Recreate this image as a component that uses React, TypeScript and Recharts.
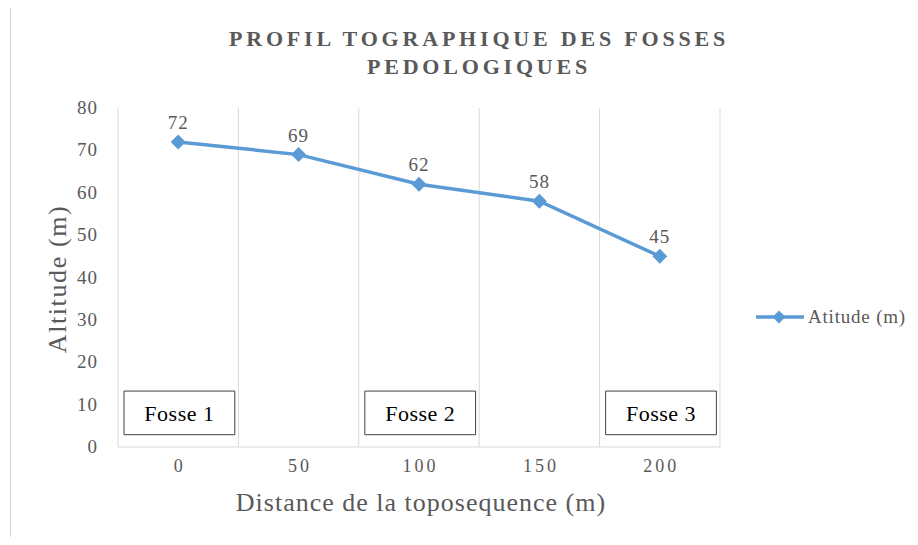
import React from "react";
import {
  LabelList,
  Line,
  LineChart,
  ReferenceArea,
  ReferenceLine,
  XAxis,
  YAxis,
} from "recharts";

// distance along the toposequence (m) and altitude read at each point
const distances = [0, 50, 100, 150, 200];
const altitudes = [72, 69, 62, 58, 45];
const yTicks = [0, 10, 20, 30, 40, 50, 60, 70, 80];

// soil pits drawn as boxed notes near the bottom of the plot
const fosses = [
  { label: "Fosse 1", at: 0 },
  { label: "Fosse 2", at: 100 },
  { label: "Fosse 3", at: 200 },
];

const BLUE = "#5b9bd5";
const GREY_TEXT = "#595959";
const GRID = "#d9d9d9";
const FONT = '"Liberation Serif", "Times New Roman", serif';

const data = distances.map((d, i) => ({ distance: d, altitude: altitudes[i] }));

// half a category each side, so points sit in the middle of their band
const half = (distances[1] - distances[0]) / 2;
const bandEdges = [...distances.map((d) => d - half), distances[distances.length - 1] + half];

function Diamond(props: any) {
  const { cx, cy } = props;
  if (cx == null || cy == null) return null;
  const r = 7.5;
  return (
    <polygon
      points={`${cx},${cy - r} ${cx + r},${cy} ${cx},${cy + r} ${cx - r},${cy}`}
      fill={BLUE}
    />
  );
}

function XTick(props: any) {
  const { x, y, payload } = props;
  return (
    <text
      x={x + 1.5}
      y={y}
      dy={17}
      textAnchor="middle"
      fill={GREY_TEXT}
      fontSize={18}
      fontFamily={FONT}
      letterSpacing={3}
    >
      {payload.value}
    </text>
  );
}

function YTick(props: any) {
  const { x, y, payload } = props;
  return (
    <text
      x={x}
      y={y}
      dy={6}
      textAnchor="end"
      fill={GREY_TEXT}
      fontSize={19}
      fontFamily={FONT}
      letterSpacing={1}
    >
      {payload.value}
    </text>
  );
}

function LegendBox() {
  return (
    <div
      style={{
        position: "absolute",
        left: 755,
        top: 306,
        display: "flex",
        alignItems: "center",
        fontFamily: FONT,
        fontSize: 19,
        letterSpacing: 0.8,
        color: GREY_TEXT,
        whiteSpace: "nowrap",
      }}
    >
      <svg width={50} height={16}>
        <line x1={1} y1={8} x2={49} y2={8} stroke={BLUE} strokeWidth={3.5} />
        <polygon points="24,1.5 30.5,8 24,14.5 17.5,8" fill={BLUE} />
      </svg>
      <span style={{ marginLeft: 3 }}>Atitude (m)</span>
    </div>
  );
}

export default function App() {
  return (
    <div style={{ position: "relative", width: 918, height: 545, margin: -8, overflow: "hidden", background: "#fff" }}>
      <div
        style={{
          position: "absolute",
          left: 10,
          top: 7,
          width: 1000,
          height: 1000,
          border: `1px solid ${GRID}`,
        }}
      />
      <div
        style={{
          position: "absolute",
          left: 0,
          width: 958,
          top: 25,
          textAlign: "center",
          fontFamily: FONT,
          fontWeight: "bold",
          fontSize: 22,
          letterSpacing: 3.8,
          lineHeight: "28px",
          color: GREY_TEXT,
        }}
      >
        PROFIL TOGRAPHIQUE DES FOSSES
        <br />
        PEDOLOGIQUES
      </div>
      <div
        style={{
          position: "absolute",
          left: 58,
          top: 279,
          transform: "translate(-50%, -50%) rotate(-90deg)",
          whiteSpace: "nowrap",
          fontFamily: FONT,
          fontSize: 26,
          letterSpacing: 1.6,
          color: GREY_TEXT,
        }}
      >
        Altitude (m)
      </div>
      <div
        style={{
          position: "absolute",
          left: 421,
          top: 503,
          transform: "translate(-50%, -50%)",
          whiteSpace: "nowrap",
          fontFamily: FONT,
          fontSize: 26,
          letterSpacing: 1,
          color: GREY_TEXT,
        }}
      >
        Distance de la toposequence (m)
      </div>
      <LineChart
        width={918}
        height={545}
        data={data}
        margin={{ top: 108, right: 198, bottom: 68, left: 58 }}
        style={{ position: "absolute", left: 0, top: 0 }}
      >
        <XAxis
          dataKey="distance"
          type="number"
          domain={[bandEdges[0], bandEdges[bandEdges.length - 1]]}
          ticks={distances}
          tickLine={false}
          axisLine={{ stroke: GRID }}
          tick={<XTick />}
          height={30}
        />
        <YAxis
          type="number"
          domain={[0, 80]}
          ticks={yTicks}
          tickLine={false}
          axisLine={false}
          width={60}
          tickMargin={14}
          tick={<YTick />}
          interval={0}
        />
        {bandEdges.map((x) => (
          <ReferenceLine key={x} x={x} stroke={GRID} strokeWidth={1} ifOverflow="visible" />
        ))}
        <Line
          type="linear"
          dataKey="altitude"
          name="Atitude (m)"
          stroke={BLUE}
          strokeWidth={3.5}
          dot={<Diamond />}
          activeDot={false}
          isAnimationActive={false}
        >
          <LabelList
            dataKey="altitude"
            position="top"
            offset={13}
            fill={GREY_TEXT}
            fontSize={19}
            fontFamily={FONT}
            letterSpacing={1}
          />
        </Line>
        {fosses.map((f) => (
          <ReferenceArea
            key={f.label}
            x1={f.at - 22.5}
            x2={f.at + 23.5}
            y1={2.9}
            y2={13.2}
            fill="#fff"
            fillOpacity={1}
            stroke="#404040"
            strokeWidth={1}
            ifOverflow="visible"
            label={{
              value: f.label,
              position: "center",
              fill: "#000",
              fontSize: 22,
              fontFamily: FONT,
              letterSpacing: 0.5,
            }}
          />
        ))}
      </LineChart>
      <LegendBox />
    </div>
  );
}
